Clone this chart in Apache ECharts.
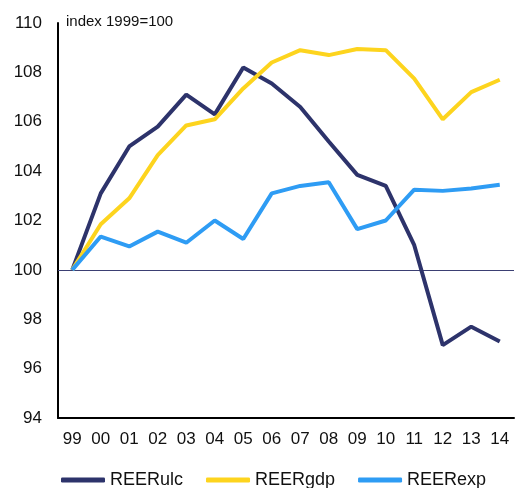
<!DOCTYPE html>
<html>
<head>
<meta charset="utf-8">
<script src="https://cdn.jsdelivr.net/npm/echarts@6/dist/echarts.min.js"></script>
<style>
  html, body { margin: 0; padding: 0; background: #fff; }
  #chart { width: 518px; height: 488px; }
</style>
</head>
<body>
<div id="chart"></div>
<script>
  var years = ["99", "00", "01", "02", "03", "04", "05", "06", "07", "08", "09", "10", "11", "12", "13", "14"];
  var reerUlc = [100, 103.1, 105.0, 105.8, 107.1, 106.3, 108.2, 107.55, 106.6, 105.2, 103.85, 103.4, 101.0, 96.95, 97.7, 97.1];
  var reerGdp = [100, 101.85, 102.9, 104.65, 105.85, 106.1, 107.35, 108.4, 108.9, 108.7, 108.95, 108.9, 107.75, 106.1, 107.2, 107.7];
  var reerExp = [100, 101.35, 100.95, 101.55, 101.1, 102.0, 101.25, 103.1, 103.4, 103.55, 101.65, 102.0, 103.25, 103.2, 103.3, 103.45];
  var baseLine = 100;

  var chart = echarts.init(document.getElementById("chart"));
  var font = "Liberation Sans, Arial, sans-serif";

  function lineSeries(name, data, color) {
    return {
      name: name,
      type: "line",
      data: data,
      symbol: "none",
      lineStyle: { color: color, width: 4 },
      itemStyle: { color: color },
      z: 3
    };
  }

  var series = [
    lineSeries("REERulc", reerUlc, "#2d336b"),
    lineSeries("REERgdp", reerGdp, "#fdd41e"),
    lineSeries("REERexp", reerExp, "#2e9cf4")
  ];
  // thin reference line at 100
  series[0].markLine = {
    silent: true,
    symbol: "none",
    label: { show: false },
    lineStyle: { color: "#3b3f73", width: 1, type: "solid" },
    data: [{ yAxis: baseLine }],
    z: 1
  };

  chart.setOption({
    animation: false,
    grid: { left: 58, right: 4, top: 23, bottom: 70 },
    graphic: [{
      type: "text",
      left: 66,
      top: 14,
      style: { text: "index 1999=100", font: "15px " + font, fill: "#111" }
    }],
    legend: {
      left: 56,
      top: 466,
      icon: "roundRect",
      itemWidth: 44,
      itemHeight: 5,
      itemGap: 23,
      textStyle: { fontFamily: font, fontSize: 18, color: "#111" },
      data: ["REERulc", "REERgdp", "REERexp"]
    },
    xAxis: {
      type: "category",
      data: years,
      boundaryGap: true,
      axisLine: { lineStyle: { color: "#000", width: 2 } },
      axisTick: { show: false },
      axisLabel: { fontFamily: font, fontSize: 17, color: "#111", margin: 13 }
    },
    yAxis: {
      type: "value",
      min: 94,
      max: 110,
      interval: 2,
      axisLine: { show: true, lineStyle: { color: "#000", width: 2 } },
      axisTick: { show: false },
      splitLine: { show: false },
      axisLabel: { fontFamily: font, fontSize: 17, color: "#111", margin: 16 }
    },
    series: series
  });
</script>
</body>
</html>
